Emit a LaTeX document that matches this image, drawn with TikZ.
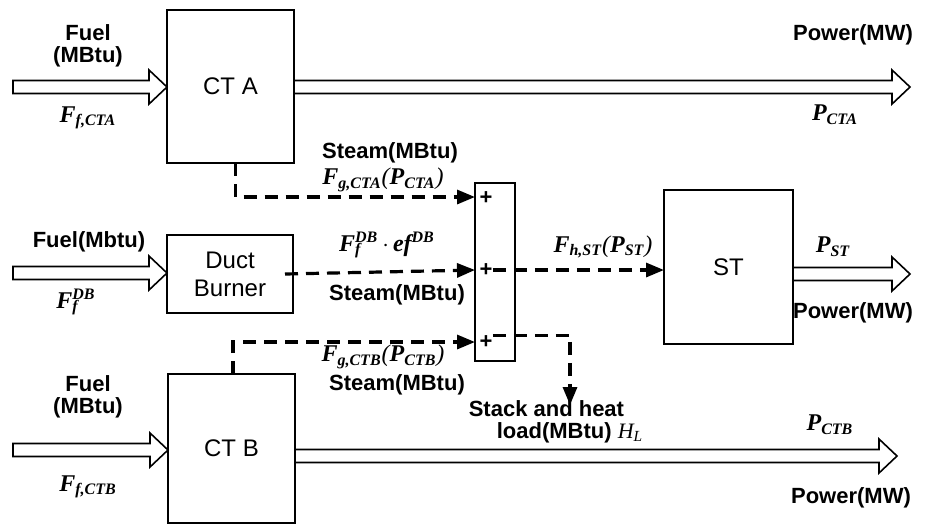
\documentclass[tikz,border=0pt]{standalone}
\usepackage{fontspec}
\setmainfont{Liberation Sans}
\newfontfamily\varfont{Liberation Serif}
\usetikzlibrary{arrows.meta,calc}

\newcommand{\lo}[1]{\textsubscript{#1}}
\newcommand{\hi}[1]{\textsuperscript{#1}}
% hollow block arrow, horizontal, from #1 to #2
\newcommand{\hollowarrow}[2]{%
  \draw[hollow] let \p1=(#1), \p2=(#2) in
    (\x1,\y1+3.25pt) -- (\x2-9pt,\y1+3.25pt) -- (\x2-9pt,\y1+8.5pt)
    -- (\x2,\y1) -- (\x2-9pt,\y1-8.5pt) -- (\x2-9pt,\y1-3.25pt)
    -- (\x1,\y1-3.25pt) -- cycle;}

\begin{document}
\begin{tikzpicture}[x=0.5pt, y=-0.5pt,
    unit/.style={draw, line width=1.2pt, inner sep=0pt, outer sep=0pt,
                 align=center, font=\fontsize{12}{14}\selectfont},
    lbl/.style={inner sep=0pt, align=center,
                font=\fontsize{11}{11}\selectfont\bfseries},
    flow/.style={inner sep=0pt, font=\fontsize{12}{14}\selectfont\varfont\bfseries\itshape},
    hollow/.style={draw, line width=0.8pt, fill=white},
    steam/.style={line width=1.6pt, dash pattern=on 6.5pt off 4pt},
    steamarrow/.style={steam, -{Triangle[length=9pt,width=7pt]}}]

  \useasboundingbox (0,0) rectangle (930,527);

  %% units
  \node[unit, minimum width=63.5pt, minimum height=76.5pt] (cta) at (230.5,86.5) {CT A};
  \node[unit, minimum width=63pt, minimum height=39pt] (duct) at (230,274) {Duct\\Burner};
  \node[unit, minimum width=63.5pt, minimum height=74.5pt] (ctb) at (231.5,448.5) {CT B};
  \node[unit, minimum width=20pt, minimum height=89pt] (sum) at (495,272) {};
  \node[unit, minimum width=64.5pt, minimum height=77pt] (st) at (728.5,267) {ST};

  %% summing points
  \node[lbl] (p1) at (486,198) {+};
  \node[lbl] (p2) at (486,270) {+};
  \node[lbl] (p3) at (486,342) {+};

  %% free ends
  \coordinate (fa) at (13,87);
  \coordinate (fd) at (13,273);
  \coordinate (fb) at (13,450);
  \coordinate (pa) at (910,87);
  \coordinate (ps) at (910,274);
  \coordinate (pb) at (897,456);
  \coordinate (hl) at (570,405);

  %% fuel in, power out
  \hollowarrow{fa}{cta.west}
  \hollowarrow{fd}{duct.west}
  \hollowarrow{fb}{ctb.west}
  \hollowarrow{cta.east |- pa}{pa}
  \hollowarrow{st.east |- ps}{ps}
  \hollowarrow{ctb.east |- pb}{pb}

  %% steam
  \draw[steamarrow] ([xshift=2.5pt]cta.south) |- (sum.west |- 0,197);
  \draw[steamarrow] ([xshift=-4pt]duct.east) -- (sum.west |- p2);
  \draw[steamarrow] ([xshift=0.75pt]ctb.north) |- (sum.west |- p3);
  \draw[steamarrow] (p2.east) -- (p2.east -| st.west);
  \draw[steamarrow] (p3.north east) -| (hl);

  %% labels
  \node[lbl] at (88,46) {Fuel\\(MBtu)};
  \node[flow] at (88,118) {F\lo{f,CTA}};
  \node[lbl] at (89,242) {Fuel(Mbtu)};
  \node[flow] at (76,302) {F\rlap{\lo{f}}\hi{DB}};
  \node[lbl] at (88,397) {Fuel\\(MBtu)};
  \node[flow] at (88,487) {F\lo{f,CTB}};

  \node[lbl] at (853,35) {Power(MW)};
  \node[flow] at (835,115) {P\lo{CTA}};
  \node[flow] at (833,247) {P\lo{ST}};
  \node[lbl] at (853,313) {Power(MW)};
  \node[flow] at (830,425) {P\lo{CTB}};
  \node[lbl] at (851,498) {Power(MW)};

  \node[lbl] at (390,153) {Steam(MBtu)};
  \node[flow] at (383,180) {F\lo{g,CTA}{\mdseries(}P\lo{CTA}{\mdseries)}};
  \node[flow] at (387,245) {F\rlap{\lo{f}}\hi{DB}\,{\mdseries\upshape$\cdot$}\,ef\hi{DB}};
  \node[lbl] at (397,295) {Steam(MBtu)};
  \node[flow] at (383,357) {F\lo{g,CTB}{\mdseries(}P\lo{CTB}{\mdseries)}};
  \node[lbl] at (397,385) {Steam(MBtu)};
  \node[flow] at (603,247) {F\lo{h,ST}{\mdseries(}P\lo{ST}{\mdseries)}};

  \node[lbl, align=left] at (570,422) {\hspace*{-14pt}Stack and heat\\load(MBtu) {\varfont\mdseries\itshape H\lo{L}}};

\end{tikzpicture}
\end{document}
